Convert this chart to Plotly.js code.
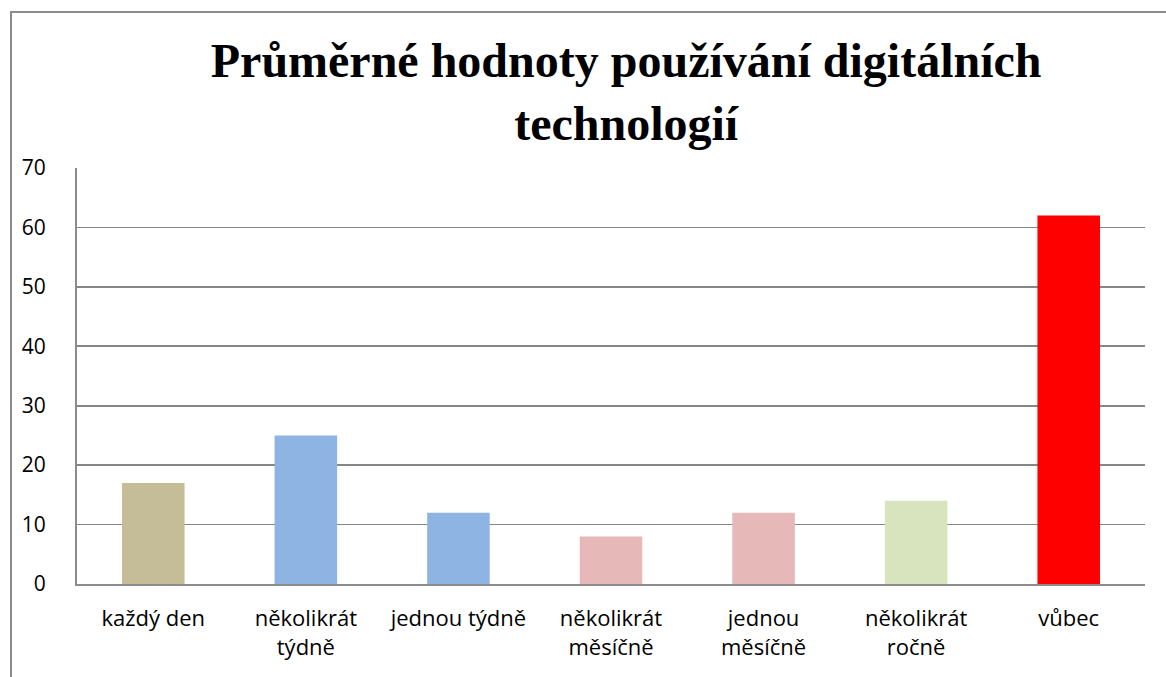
<!DOCTYPE html>
<html>
<head>
<meta charset="utf-8">
<script src="https://cdn.plot.ly/plotly-3.0.1.min.js"></script>
<style>
html,body{margin:0;padding:0;background:#fff;overflow:hidden;}
#chart{width:1166px;height:677px;position:absolute;left:0;top:0;}
#frame{position:absolute;left:10px;top:11px;width:1200px;height:700px;border:2px solid #8c8c8c;pointer-events:none;box-sizing:border-box;}
</style>
</head>
<body>
<div id="chart"></div>
<div id="frame"></div>
<script>
var categories = ["každý den", "několikrát<br>týdně", "jednou týdně", "několikrát<br>měsíčně", "jednou<br>měsíčně", "několikrát<br>ročně", "vůbec"];
var values = [17, 25, 12, 8, 12, 14, 62];
var barColors = ["#C4BD97", "#8EB4E3", "#8EB4E3", "#E6B9B8", "#E6B9B8", "#D7E4BD", "#FF0000"];
var yTicks = [0, 10, 20, 30, 40, 50, 60, 70];
var chartTitle = "Průměrné hodnoty používání digitálních<br>technologií";

var trace = {
  type: "bar",
  x: categories,
  y: values,
  marker: {color: barColors, line: {width: 0}},
  hoverinfo: "x+y"
};

var layout = {
  width: 1166,
  height: 677,
  margin: {l: 77, r: 21, t: 168, b: 93},
  paper_bgcolor: "rgba(0,0,0,0)",
  plot_bgcolor: "#ffffff",
  bargap: 0.59,
  showlegend: false,
  title: {
    text: chartTitle,
    font: {family: "Liberation Serif, Times New Roman, serif", size: 48, color: "#000000", weight: "bold"},
    xref: "container", x: 0.537, xanchor: "center",
    yref: "container", y: 0.886, yanchor: "top"
  },
  xaxis: {
    type: "category",
    showgrid: false,
    showline: true,
    linecolor: "#8c8c8c",
    linewidth: 2,
    ticks: "",
    tickfont: {family: "Open Sans, Liberation Sans, sans-serif", size: 22, color: "#000000"},
    ticklabelstandoff: 14,
    tickangle: 0,
    fixedrange: true
  },
  yaxis: {
    range: [0, 70],
    tickvals: yTicks,
    ticktext: yTicks.map(String),
    showgrid: true,
    gridcolor: "#868686",
    gridwidth: 1.8,
    showline: true,
    linecolor: "#8c8c8c",
    linewidth: 2,
    zeroline: false,
    ticks: "",
    tickfont: {family: "Open Sans, Liberation Sans, sans-serif", size: 21, color: "#000000"},
    ticklabelstandoff: 25,
    fixedrange: true
  }
};

Plotly.newPlot("chart", [trace], layout, {displayModeBar: false, staticPlot: true});
</script>
</body>
</html>
